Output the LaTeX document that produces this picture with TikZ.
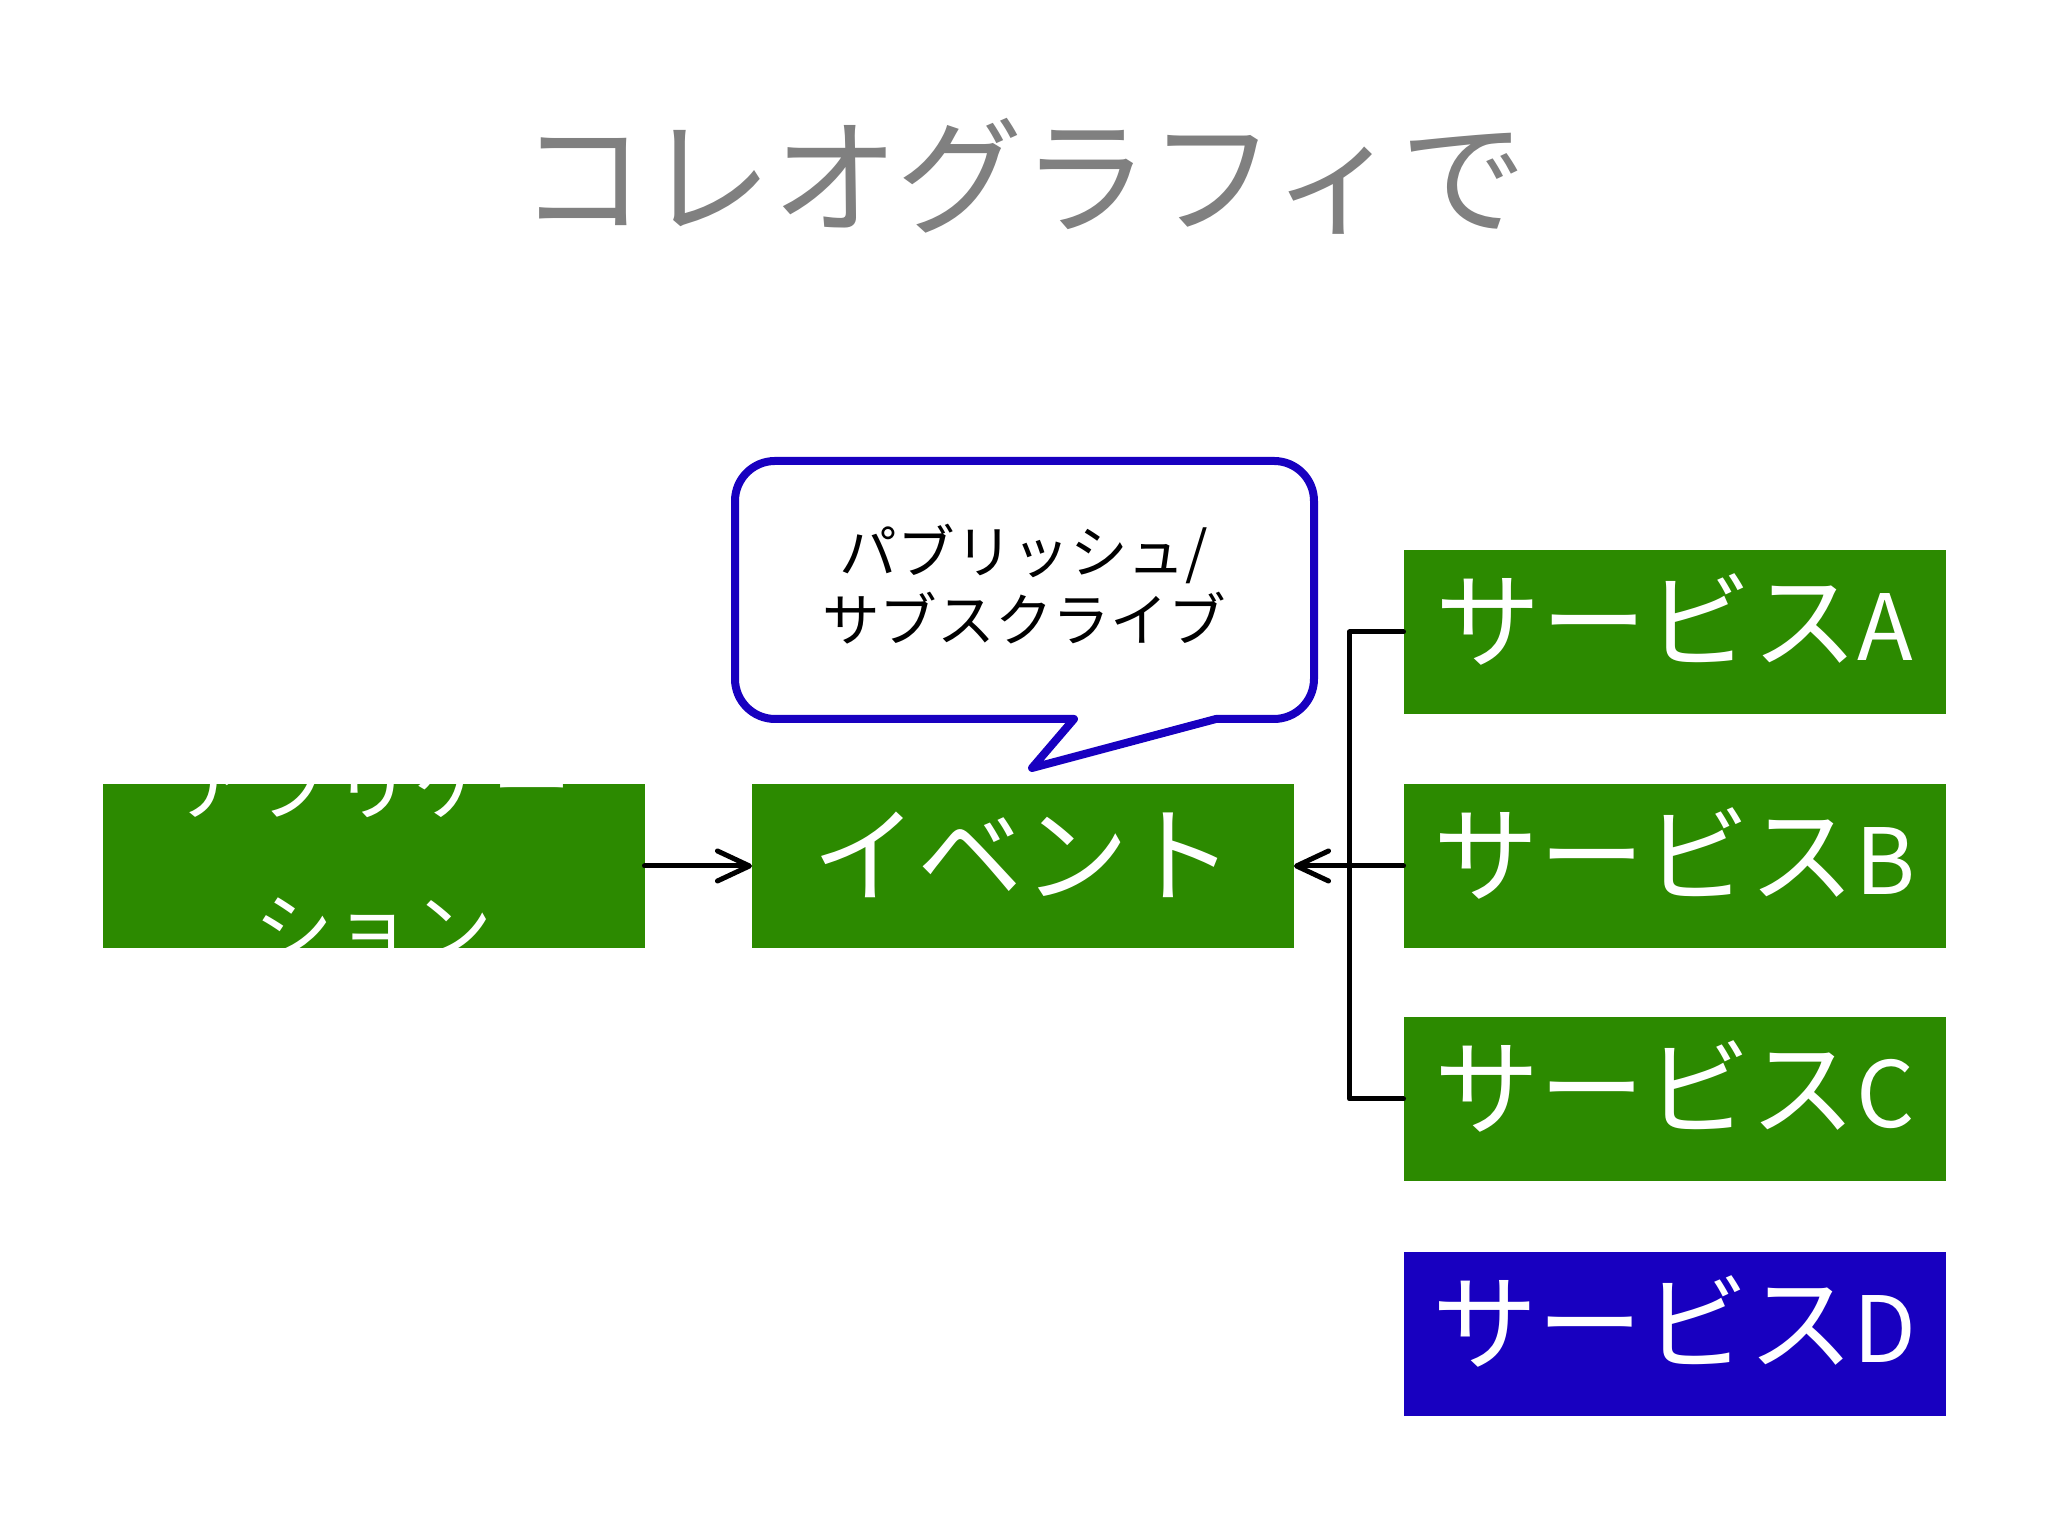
\documentclass[tikz,border=0pt]{standalone}
\usepackage{fontspec}
\setmainfont{Noto Sans CJK JP}
\usepackage{xcolor}
\usepackage{tikz}
\usetikzlibrary{arrows.meta}

\definecolor{boxgreen}{RGB}{44,138,0}
\definecolor{boxblue}{RGB}{24,0,192}
\definecolor{titlegray}{RGB}{128,128,128}

\tikzset{
  box/.style = {rectangle,
      draw = none,
      text = white,
      minimum width = 5.42cm,
      minimum height = 1.64cm,
      inner sep = 0pt,
      outer sep = 0pt,
      font = \fontsize{30}{30}\selectfont,
      text height = 17pt,
      text depth = 0.6pt},
  flow/.style = {draw = black,
      line width = 0.05cm,
      line cap = round,
      line join = round},
  barb/.style = {-{Straight Barb[length = 0.32cm, width = 0.3cm, round]}},
}

\begin{document}
\begin{tikzpicture}
\useasboundingbox[fill = white] (0,0) rectangle (20.48,15.36);

% title
\node[text = titlegray,
    font = \fontsize{36}{36}\selectfont] (title) at (10.23,13.60) {コレオグラフィで};

% speech bubble
\draw[draw = boxblue, fill = white, line width = 0.08cm, line join = round]
  (10.74,8.17) -- (10.32,7.68) -- (12.16,8.17) -- (12.74,8.17)
  arc[start angle = 270, end angle = 360, radius = 0.4cm] -- (13.14,10.35)
  arc[start angle = 0, end angle = 90, radius = 0.4cm] -- (7.75,10.75)
  arc[start angle = 90, end angle = 180, radius = 0.4cm] -- (7.35,8.57)
  arc[start angle = 180, end angle = 270, radius = 0.4cm] -- cycle;
\node[align = center,
    font = \fontsize{16.4}{19.3}\selectfont] (pubsub) at (10.24,9.52) {パブリッシュ/\\サブスクライブ};

% application, text runs over the box edges
\node[box, fill = boxgreen] (app) at (3.735,6.70) {};
\begin{scope}
  \clip (app.south west) rectangle (app.north east);
  \node[text = white,
      align = center,
      yshift = 0.10cm,
      font = \fontsize{22.5}{41}\selectfont] (apptext) at (app.center) {アプリケー\\ション};
\end{scope}

% event
\node[box, fill = boxgreen] (event) at (10.23,6.70) {イベント};

% services
\node[box, fill = boxgreen] (svcA) at (16.745,9.04) {サービス{\fontsize{26}{26}\selectfont A}};
\node[box, fill = boxgreen] (svcB) at (16.745,6.70) {サービス{\fontsize{26}{26}\selectfont B}};
\node[box, fill = boxgreen] (svcC) at (16.745,4.37) {サービス{\fontsize{26}{26}\selectfont C}};
\node[box, fill = boxblue] (svcD) at (16.745,2.02) {サービス{\fontsize{26}{26}\selectfont D}};

% connectors
\draw[flow, barb] (app) -- (event);
\draw[flow] (svcA.west) -- ++(-0.54,0) |- (svcC.west);
\draw[flow, barb] (svcB) -- (event);
\end{tikzpicture}
\end{document}
